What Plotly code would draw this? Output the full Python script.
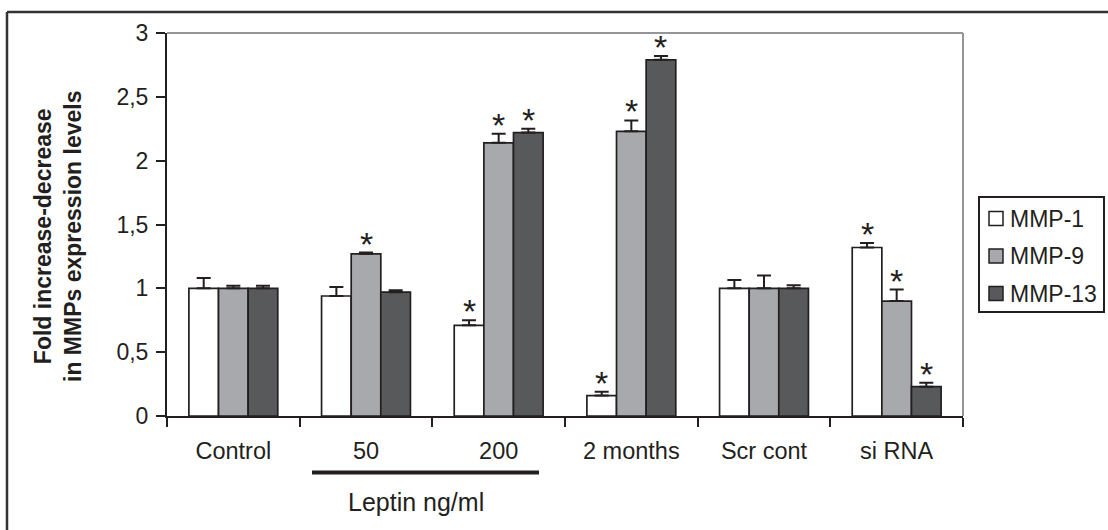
import plotly.graph_objects as go

# ---------------- data ----------------
categories = ["Control", "50", "200", "2 months", "Scr cont", "si RNA"]
series_names = ["MMP-1", "MMP-9", "MMP-13"]
mmp1 = [1.0, 0.94, 0.71, 0.16, 1.0, 1.32]
mmp9 = [1.0, 1.27, 2.14, 2.23, 1.0, 0.90]
mmp13 = [1.0, 0.97, 2.22, 2.79, 1.0, 0.23]
mmp1_err = [0.08, 0.07, 0.04, 0.03, 0.065, 0.035]
mmp9_err = [0.02, 0.01, 0.07, 0.085, 0.10, 0.09]
mmp13_err = [0.02, 0.015, 0.03, 0.03, 0.025, 0.03]
# significance marks (1 = asterisk)
mmp1_sig = [0, 0, 1, 1, 0, 1]
mmp9_sig = [0, 1, 1, 1, 0, 1]
mmp13_sig = [0, 0, 1, 1, 0, 1]
y_ticks = [0, 0.5, 1, 1.5, 2, 2.5, 3]

# ---------------- style / layout ----------------
W, H = 1108, 530
L, R, T, B = 167, 1108 - 963, 33, 530 - 416
PW, PH = W - L - R, H - T - B
FONT = "Liberation Sans, Arial, sans-serif"
INK = "#231f20"
fills = ["#ffffff", "#a7a9ac", "#58595b"]
BARGAP = 0.33


def px_x(x):
    return (x - L) / PW


def px_y(y):
    return (H - B - y) / PH


values = [mmp1, mmp9, mmp13]
errors = [mmp1_err, mmp9_err, mmp13_err]
sigs = [mmp1_sig, mmp9_sig, mmp13_sig]

fig = go.Figure()
for name, vals, errs, col in zip(series_names, values, errors, fills):
    fig.add_trace(go.Bar(
        name=name, x=categories, y=vals,
        marker=dict(color=col, line=dict(color=INK, width=1.7)),
        error_y=dict(type="data", array=errs, arrayminus=[0] * len(errs),
                     symmetric=False, color=INK, thickness=2, width=7),
        showlegend=False,
    ))

# asterisks above significant bars (x given as category index)
bar_px = PW / len(categories) * (1 - BARGAP) / 3
annotations = []
shapes = []
for i, (vals, errs, sg) in enumerate(zip(values, errors, sigs)):
    for ci, (v, e, s) in enumerate(zip(vals, errs, sg)):
        if s:
            annotations.append(dict(
                x=ci, y=v + e, xref="x", yref="y", text="*", showarrow=False,
                xshift=(i - 1) * bar_px, yanchor="middle", yshift=9,
                font=dict(family=FONT, size=34, color=INK)))

# y axis title
annotations.append(dict(
    x=px_x(58), y=px_y(236), xref="paper", yref="paper",
    text="<b>Fold increase-decrease<br>in MMPs expression levels</b>",
    textangle=-90, showarrow=False, xanchor="center", yanchor="middle",
    font=dict(family=FONT, size=23, color=INK)))

# Leptin group label
annotations.append(dict(
    x=px_x(416), y=px_y(502), xref="paper", yref="paper",
    text="Leptin ng/ml", showarrow=False, xanchor="center", yanchor="middle",
    font=dict(family=FONT, size=25, color=INK)))

# legend (drawn box, swatches and labels)
LEG_X0, LEG_X1, LEG_Y0, LEG_Y1 = 979, 1104, 197, 312
leg_rows = [218.5, 256, 293.5]
shapes.append(dict(type="rect", xref="paper", yref="paper",
                   x0=px_x(LEG_X0), x1=px_x(LEG_X1), y0=px_y(LEG_Y1), y1=px_y(LEG_Y0),
                   line=dict(color=INK, width=2), fillcolor="white"))
for name, col, yc in zip(series_names, fills, leg_rows):
    shapes.append(dict(type="rect", xref="paper", yref="paper",
                       x0=px_x(989), x1=px_x(1003), y0=px_y(yc + 7), y1=px_y(yc - 7),
                       line=dict(color=INK, width=1.5), fillcolor=col))
    annotations.append(dict(x=px_x(1008), y=px_y(yc), xref="paper", yref="paper",
                            text=name, showarrow=False, xanchor="left", yanchor="middle",
                            font=dict(family=FONT, size=23, color=INK)))

shapes += [
    # gray frame of plot area (top and right)
    dict(type="line", xref="paper", yref="paper", x0=0, x1=1, y0=1, y1=1,
         line=dict(color="#939598", width=2)),
    dict(type="line", xref="paper", yref="paper", x0=1, x1=1, y0=0, y1=1,
         line=dict(color="#939598", width=2)),
    # Leptin bracket line
    dict(type="line", xref="paper", yref="paper", x0=px_x(312), x1=px_x(539),
         y0=px_y(472.5), y1=px_y(472.5), line=dict(color=INK, width=4)),
    # outer figure frame (top and left, cropped)
    dict(type="line", xref="paper", yref="paper", x0=px_x(7), x1=px_x(1120),
         y0=px_y(12), y1=px_y(12), line=dict(color="#333333", width=2.5)),
    dict(type="line", xref="paper", yref="paper", x0=px_x(7), x1=px_x(7),
         y0=px_y(12), y1=px_y(540), line=dict(color="#333333", width=2.5)),
]

fig.update_layout(
    width=W, height=H,
    margin=dict(l=L, r=R, t=T, b=B, pad=0),
    paper_bgcolor="white", plot_bgcolor="white",
    barmode="group", bargap=BARGAP, bargroupgap=0,
    separators=",.",
    font=dict(family=FONT, size=23, color=INK),
    showlegend=False,
    annotations=annotations,
    shapes=shapes,
)

fig.update_xaxes(
    type="category", categoryorder="array", categoryarray=categories,
    range=[-0.5, len(categories) - 0.5], autorange=False,
    tickson="boundaries", ticks="outside", ticklen=9,
    tickwidth=2, tickcolor=INK, showline=True, linecolor=INK, linewidth=2,
    showgrid=False, ticklabelstandoff=13, tickangle=0,
    tickfont=dict(family=FONT, size=23.5, color=INK),
)
fig.update_yaxes(
    range=[0, 3], tickvals=y_ticks, ticks="outside", ticklen=9, tickwidth=2,
    tickcolor=INK, showline=True, linecolor=INK, linewidth=2, showgrid=False,
    zeroline=False, ticklabelstandoff=3,
    tickfont=dict(family=FONT, size=23, color=INK),
)

fig.write_html("out.html")
